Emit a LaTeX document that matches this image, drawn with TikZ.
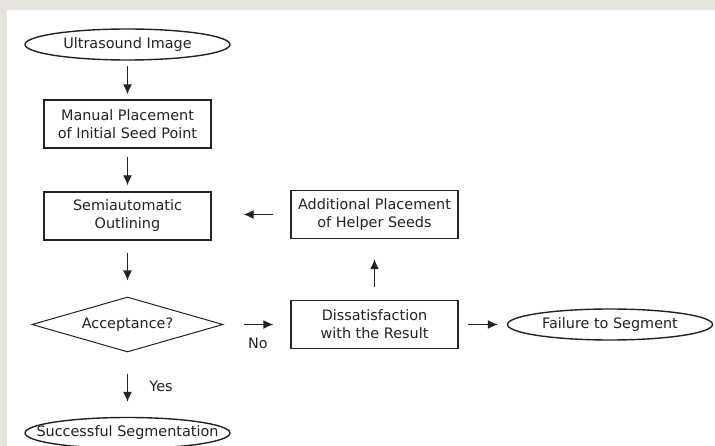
\documentclass[tikz,border=0pt]{standalone}
\usepackage{fontspec}
\setmainfont{DejaVu Sans}
\usetikzlibrary{shapes.geometric,arrows.meta}
\definecolor{bgframe}{RGB}{231,228,222}
\definecolor{ink}{RGB}{35,35,35}
\newcommand\zwtext[1]{\makebox[0pt]{#1}}
\begin{document}
\begin{tikzpicture}[x=1pt,y=-1pt,
  every node/.style={font=\fontsize{14.4}{18}\selectfont, text=ink},
  procbox/.style={draw=ink, line width=1.4pt, rectangle, minimum width=167pt, minimum height=48pt, inner sep=0pt, align=center},
  terminal/.style={draw=ink, line width=1.4pt, ellipse, minimum width=205pt, minimum height=31pt, inner sep=0pt},
  decision/.style={draw=ink, line width=1pt, diamond, aspect=3.47, minimum width=191pt, minimum height=55pt, inner sep=0pt},
  flow/.style={draw=ink, line width=1.2pt, -{Latex[length=10pt,width=9pt]}},
  lbl/.style={inner sep=0pt}
]
\useasboundingbox (0,0) rectangle (715,446);
\fill[bgframe] (0,0) rectangle (715,446);
\fill[white] (7,10) rectangle (715,446);

\node[terminal] (us) at (127.5,44.5) {\zwtext{Ultrasound Image}};
\node[procbox] (manual) at (127.5,124) {Manual Placement\\of Initial Seed Point};
\node[procbox] (semi) at (127.5,216) {Semiautomatic\\Outlining};
\node[decision] (acc) at (127.5,324.5) {\zwtext{Acceptance?}};
\node[terminal] (succ) at (127.5,433) {\zwtext{Successful Segmentation}};
\node[procbox] (add) at (374.5,214.5) {Additional Placement\\of Helper Seeds};
\node[procbox] (dis) at (374.5,324.5) {Dissatisfaction\\with the Result};
\node[terminal] (fail) at (610,324.5) {\zwtext{Failure to Segment}};

\draw[flow, shorten <=5pt, shorten >=5pt] (us) -- (manual);
\draw[flow, shorten <=8pt, shorten >=6pt] (manual) -- (semi);
\draw[flow, shorten <=12pt, shorten >=16pt] (semi) -- (acc);
\draw[flow, shorten <=21pt, shorten >=15pt] (acc) -- (succ);
\draw[flow, shorten <=20pt, shorten >=17pt] (acc) -- (dis);
\draw[flow, shorten <=13pt, shorten >=20pt] (dis) -- (add);
\draw[flow, shorten <=17pt, shorten >=32pt] (add.west) -- (add.west -| semi.east);
\draw[flow, shorten <=9pt, shorten >=9pt] (dis) -- (fail);

\node[lbl] (no) at (258,343) {No};
\node[lbl] (yes) at (161,386) {Yes};
\end{tikzpicture}
\end{document}
